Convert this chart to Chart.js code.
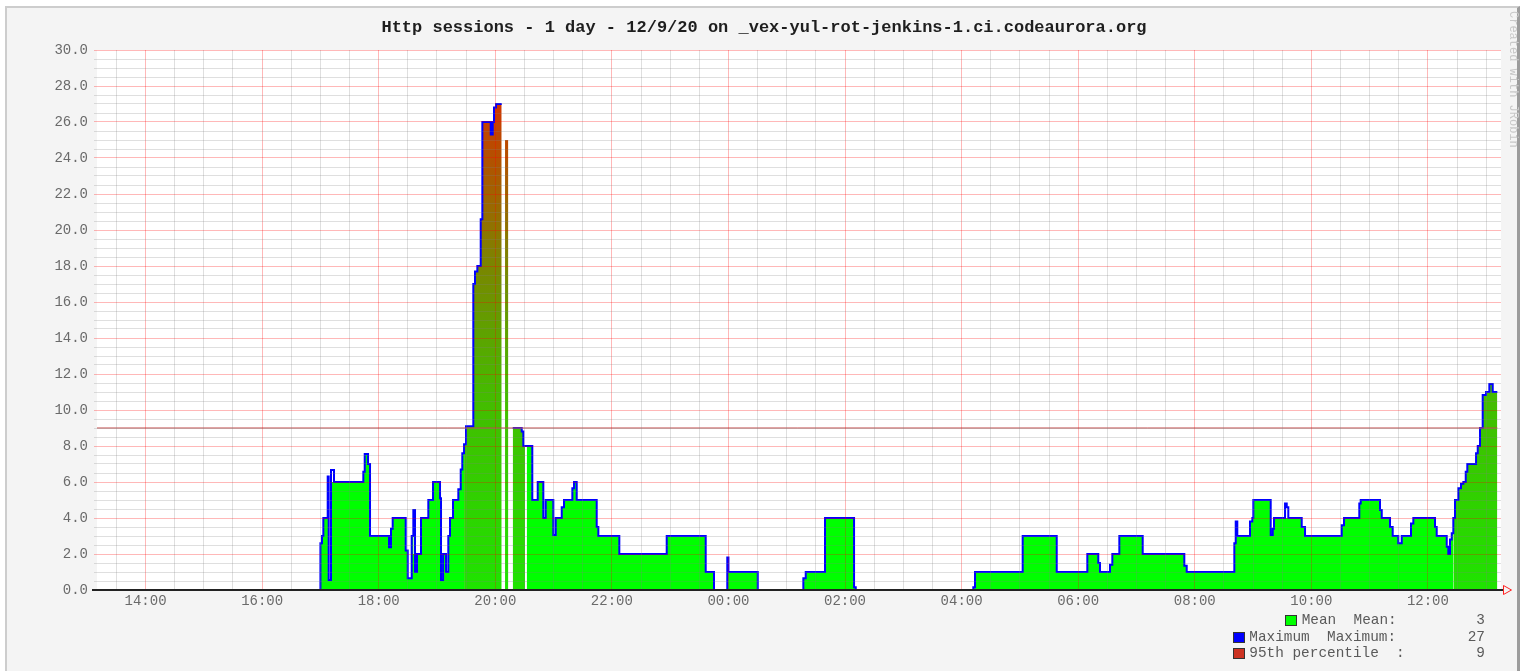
<!DOCTYPE html>
<html>
<head>
<meta charset="utf-8">
<script src="https://cdn.jsdelivr.net/npm/chart.js@4"></script>
<style>
html,body{margin:0;padding:0;background:#fff;width:1528px;height:671px;overflow:hidden;}
#frame{position:absolute;left:5px;top:6px;width:1510px;height:700px;background:#f4f4f4;border-left:2px solid #cdcdcd;border-top:2px solid #cdcdcd;border-right:3px solid #9c9c9c;}
#c{position:absolute;left:0;top:0;}
.leg{position:absolute;font:14.4px "Liberation Mono",monospace;color:#5a5a5a;white-space:pre;line-height:16px;}
.box{position:absolute;width:10px;height:9px;border:1px solid #333;}
#jrobin{position:absolute;left:1506px;top:11px;writing-mode:vertical-rl;font:12px "Liberation Mono",monospace;color:#c8c8c8;}
</style>
</head>
<body>
<div id="frame"></div>
<canvas id="c" width="1528" height="671"></canvas>
<div id="jrobin">Created with JRobin</div>
<div id="legend"></div>
<script>
// ---- data (hours since 00:00 of 12/9/20; values > 24 are the next day) ----
const chartTitle = 'Http sessions - 1 day - 12/9/20 on _vex-yul-rot-jenkins-1.ci.codeaurora.org';

const times = [
  13.167, 17.000, 17.027, 17.050, 17.125, 17.142, 17.182, 17.233, 17.736, 17.760,
  17.817, 17.851, 18.177, 18.211, 18.240, 18.463, 18.498, 18.566, 18.594, 18.623,
  18.657, 18.726, 18.851, 18.932, 19.052, 19.069, 19.104, 19.155, 19.194, 19.223,
  19.275, 19.366, 19.407, 19.434, 19.464, 19.498, 19.623, 19.652, 19.692, 19.750,
  19.778, 19.922, 19.956, 19.978, 20.013, 20.110, 20.167, 20.224, 20.299, 20.454,
  20.481, 20.510, 20.539, 20.635, 20.728, 20.824, 20.865, 20.996, 21.037, 21.140,
  21.179, 21.322, 21.351, 21.397, 21.740, 21.768, 22.128, 22.941, 23.610, 23.752,
  23.980, 24.000, 24.503, 25.285, 25.326, 25.657, 26.155, 26.184, 28.201, 28.230,
  29.048, 29.632, 30.157, 30.345, 30.374, 30.546, 30.586, 30.706, 31.107, 31.821,
  31.862, 32.679, 32.703, 32.730, 32.948, 32.988, 33.005, 33.303, 33.338, 33.360,
  33.549, 33.578, 33.605, 33.835, 33.892, 34.521, 34.561, 34.823, 34.847, 35.178,
  35.208, 35.350, 35.396, 35.492, 35.551, 35.710, 35.750, 36.122, 36.151, 36.323,
  36.350, 36.379, 36.409, 36.436, 36.465, 36.522, 36.568, 36.608, 36.649, 36.676,
  36.826, 36.855, 36.894, 36.940, 36.997, 37.054, 37.112, 37.191
];

const meanSessions = [
  0, 2.6, 3.0, 4.0, 4.0, 0.55, 6.0, 6.0, 6.57, 7.55,
  7.0, 3.0, 2.37, 3.4, 4.0, 2.2, 0.65, 3.0, 2.0, 1.0,
  2.0, 4.0, 5.0, 6.0, 5.1, 0.55, 2.0, 1.0, 3.0, 4.0,
  5.0, 5.6, 6.7, 7.6, 8.1, 9.1, 17.0, 17.7, 18.0, 20.6,
  26.0, 25.3, 26.0, 26.8, 27.0, null, 25.0, null, 9.0, 8.8,
  8.0, null, 8.0, 5.0, 6.0, 4.0, 5.0, 3.05, 4.0, 4.6,
  5.0, 5.65, 6.0, 5.0, 3.5, 3.0, 2.0, 3.0, 1.0, 0,
  1.8, 1.0, 0, 0.65, 1.0, 4.0, 0.15, 0, 0.15, 1.0,
  3.0, 1.0, 2.0, 1.5, 1.0, 1.4, 2.0, 3.0, 2.0, 1.35,
  1.0, 2.6, 3.0, 3.0, 3.8, 4.0, 5.0, 3.05, 3.4, 4.0,
  4.0, 4.0, 4.0, 3.5, 3.0, 3.6, 4.0, 4.8, 5.0, 4.44,
  4.0, 3.5, 3.0, 2.6, 3.0, 3.7, 4.0, 3.5, 3.0, 2.4,
  2.0, 2.8, 3.15, 4.0, 5.0, 5.65, 5.9, 6.0, 6.57, 7.0,
  7.6, 8.0, 9.0, 10.83, 11.0, 11.44, 11.0
];

const maxSessions = [
  0, 2.6, 3.0, 4.0, 6.3, 0.55, 6.67, 6.0, 6.57, 7.55,
  7.0, 3.0, 2.37, 3.4, 4.0, 2.2, 0.65, 3.0, 4.44, 1.0,
  2.0, 4.0, 5.0, 6.0, 5.1, 0.55, 2.0, 1.0, 3.0, 4.0,
  5.0, 5.6, 6.7, 7.6, 8.1, 9.1, 17.0, 17.7, 18.0, 20.6,
  26.0, 25.3, 26.0, 26.8, 27.0, null, null, null, 9.0, 8.8,
  8.0, 8.0, 8.0, 5.0, 6.0, 4.0, 5.0, 3.05, 4.0, 4.6,
  5.0, 5.65, 6.0, 5.0, 3.5, 3.0, 2.0, 3.0, 1.0, 0,
  1.8, 1.0, 0, 0.65, 1.0, 4.0, 0.15, 0, 0.15, 1.0,
  3.0, 1.0, 2.0, 1.5, 1.0, 1.4, 2.0, 3.0, 2.0, 1.35,
  1.0, 2.6, 3.8, 3.0, 3.8, 4.0, 5.0, 3.05, 3.4, 4.0,
  4.8, 4.6, 4.0, 3.5, 3.0, 3.6, 4.0, 4.8, 5.0, 4.44,
  4.0, 3.5, 3.0, 2.6, 3.0, 3.7, 4.0, 3.5, 3.0, 2.4,
  2.0, 2.8, 3.15, 4.0, 5.0, 5.65, 5.9, 6.0, 6.57, 7.0,
  7.6, 8.0, 9.0, 10.83, 11.0, 11.44, 11.0
];

const percentile95 = 9;

const statLabels = ['Mean  Mean:', 'Maximum  Maximum:', '95th percentile  :'];
const statValues = [3, 27, 9];

const xTickHours  = [14, 16, 18, 20, 22, 24, 26, 28, 30, 32, 34, 36];
const xTickLabels = ['14:00', '16:00', '18:00', '20:00', '22:00', '00:00', '02:00', '04:00', '06:00', '08:00', '10:00', '12:00'];
const yTickValues = [0, 2, 4, 6, 8, 10, 12, 14, 16, 18, 20, 22, 24, 26, 28, 30];
const yTickLabels = ['0.0', '2.0', '4.0', '6.0', '8.0', '10.0', '12.0', '14.0', '16.0', '18.0', '20.0', '22.0', '24.0', '26.0', '28.0', '30.0'];

// time spans where the mean area is painted with the green-to-red gradient
const gradientSpans = [[19.44, 20.51], [36.43, 37.3]];

// ---- helpers ----
function stepData(values) {
  const out = [];
  for (let i = 0; i < values.length; i++) {
    const v = values[i];
    out.push({x: times[i], y: v});
    if (v !== null && (i === values.length - 1 || values[i + 1] === null)) {
      out.push({x: times[i + 1], y: v});
    }
  }
  return out;
}
function findIdx(arr, v) {
  for (let i = 0; i < arr.length; i++) if (Math.abs(arr[i] - v) < 1e-6) return i;
  return -1;
}
function inGradient(t) {
  return gradientSpans.some(s => t >= s[0] - 1e-6 && t < s[1]);
}
let gradCache = null;
function meanGradient(chart) {
  const ys = chart.scales.y;
  if (!ys) return '#00ff00';
  const y0 = ys.getPixelForValue(0), y1 = ys.getPixelForValue(30);
  const key = y0 + ':' + y1;
  if (gradCache && gradCache.key === key) return gradCache.g;
  const g = chart.ctx.createLinearGradient(0, y0, 0, y1);
  g.addColorStop(0, 'rgb(30,228,0)');
  g.addColorStop(0.37, 'rgb(70,186,0)');
  g.addColorStop(0.6, 'rgb(122,134,0)');
  g.addColorStop(0.9, 'rgb(208,54,0)');
  g.addColorStop(1, 'rgb(232,30,0)');
  gradCache = {key, g};
  return g;
}

const tickFont = {family: 'Liberation Mono', size: 14};
const majorRed = 'rgba(255,0,0,0.28)';
const minorGray = 'rgba(128,128,128,0.25)';

const plotBg = {
  id: 'plotBg',
  beforeDraw(chart) {
    const a = chart.chartArea, c = chart.ctx;
    c.save(); c.fillStyle = '#ffffff';
    c.fillRect(a.left, a.top, a.right - a.left, a.bottom - a.top);
    c.restore();
  }
};
const axisArrow = {
  id: 'axisArrow',
  afterDraw(chart) {
    const a = chart.chartArea, c = chart.ctx;
    const y = Math.round(a.bottom);
    c.save();
    c.strokeStyle = '#222'; c.lineWidth = 2;
    c.beginPath(); c.moveTo(a.left - 5, y); c.lineTo(a.right + 2, y); c.stroke();
    c.strokeStyle = '#ff2020'; c.lineWidth = 1;
    c.beginPath();
    c.moveTo(a.right + 2.5, y - 4.5); c.lineTo(a.right + 10.5, y); c.lineTo(a.right + 2.5, y + 4.5); c.closePath();
    c.stroke();
    c.restore();
  }
};

new Chart(document.getElementById('c'), {
  type: 'line',
  data: {
    datasets: [
      {
        label: '95th percentile',
        data: [{x: times[0], y: percentile95}, {x: times[times.length - 1], y: percentile95}],
        borderColor: '#c04848', borderWidth: 1, pointRadius: 0, fill: false, order: 0
      },
      {
        label: 'Maximum',
        data: stepData(maxSessions),
        borderColor: '#0000ff', borderWidth: 2, stepped: true, pointRadius: 0,
        fill: false, spanGaps: false, order: 1
      },
      {
        label: 'Mean',
        data: stepData(meanSessions),
        borderColor: 'rgba(0,0,0,0)', borderWidth: 0, backgroundColor: '#00ff00',
        stepped: true, pointRadius: 0, fill: 'origin', spanGaps: false, order: 2,
        segment: {
          backgroundColor: ctx => inGradient(ctx.p0.parsed.x) ? meanGradient(ctx.chart) : undefined
        }
      }
    ]
  },
  options: {
    responsive: false, animation: false, devicePixelRatio: 1,
    layout: {padding: {left: 27, right: 27, top: 0, bottom: 51}},
    plugins: {
      legend: {display: false},
      tooltip: {enabled: false},
      title: {
        display: true, text: chartTitle, color: '#1e1e1e',
        font: {family: 'Liberation Mono', size: 17, weight: 'bold'},
        padding: {top: 18, bottom: 11.6}
      }
    },
    scales: {
      x: {
        type: 'linear', min: 13.167, max: 37.254,
        afterFit: s => { s.height = 30; },
        border: {display: false},
        grid: {
          z: 1, drawTicks: false, lineWidth: 1,
          color: c => (findIdx(xTickHours, c.tick.value) >= 0 ? majorRed : minorGray)
        },
        ticks: {
          stepSize: 0.5, autoSkip: false, includeBounds: false, maxRotation: 0, minRotation: 0,
          padding: 3, font: tickFont, color: '#6a6a6a',
          callback: v => { const i = findIdx(xTickHours, v); return i >= 0 ? xTickLabels[i] : ''; }
        }
      },
      y: {
        min: 0, max: 30,
        afterFit: s => { s.width = 70; },
        border: {display: false},
        grid: {
          z: 1, tickLength: 3, lineWidth: 1,
          color: c => (findIdx(yTickValues, c.tick.value) >= 0 ? majorRed : minorGray)
        },
        ticks: {
          stepSize: 0.5, autoSkip: false, includeBounds: false,
          padding: 6, font: tickFont, color: '#6a6a6a',
          callback: v => { const i = findIdx(yTickValues, v); return i >= 0 ? yTickLabels[i] : ''; }
        }
      }
    }
  },
  plugins: [plotBg, axisArrow]
});

// ---- legend (HTML text) ----
const legendRows = [
  {box: '#00ff00', boxLeft: 1285, labelLeft: 1301.7, top: 612},
  {box: '#0000ff', boxLeft: 1232.7, labelLeft: 1249.3, top: 628.5},
  {box: '#cc3322', boxLeft: 1232.7, labelLeft: 1249.3, top: 645}
];
const legendEl = document.getElementById('legend');
legendRows.forEach((r, i) => {
  const b = document.createElement('div');
  b.className = 'box'; b.style.background = r.box;
  b.style.left = r.boxLeft + 'px'; b.style.top = (r.top + 3) + 'px';
  legendEl.appendChild(b);
  const l = document.createElement('div');
  l.className = 'leg'; l.textContent = statLabels[i];
  l.style.left = r.labelLeft + 'px'; l.style.top = r.top + 'px';
  legendEl.appendChild(l);
  const v = document.createElement('div');
  v.className = 'leg'; v.textContent = String(statValues[i]);
  v.style.right = (1528 - 1485) + 'px'; v.style.top = r.top + 'px';
  legendEl.appendChild(v);
});
</script>
</body>
</html>
